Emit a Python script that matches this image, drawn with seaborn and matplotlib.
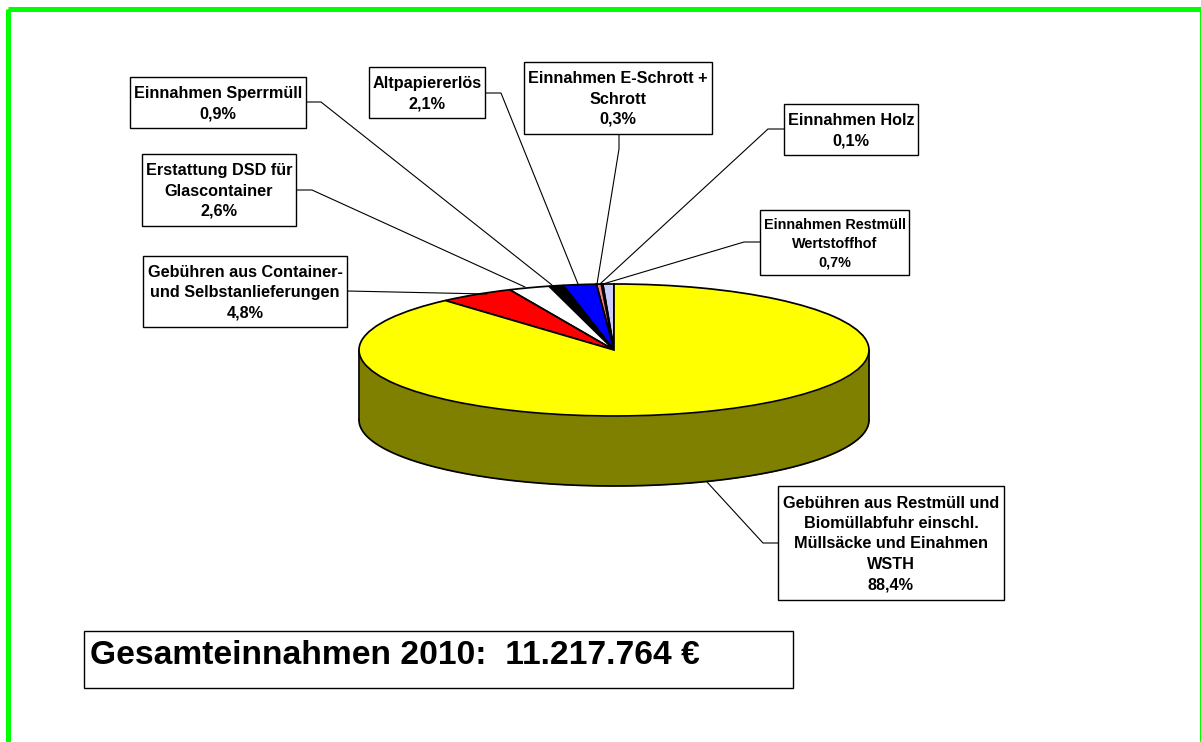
import numpy as np
import matplotlib
matplotlib.use("Agg")
import matplotlib.pyplot as plt
import seaborn as sns

# Anteile in %, Reihenfolge wie im Tortendiagramm (ab 12 Uhr gegen den Uhrzeigersinn)
anteile = [0.7, 0.1, 0.3, 2.1, 0.9, 2.6, 4.8, 88.4]
farben = ["#CCCCFF", "#FF8080", "#FF8080", "#0000FF", "#000000", "#FFFFFF", "#FF0000", "#FFFF00"]

beschriftungen = [
    "Einnahmen Restmüll\nWertstoffhof\n0,7%",
    "Einnahmen Holz\n0,1%",
    "Einnahmen E-Schrott +\nSchrott\n0,3%",
    "Altpapiererlös\n2,1%",
    "Einnahmen Sperrmüll\n0,9%",
    "Erstattung DSD für\nGlascontainer\n2,6%",
    "Gebühren aus Container-\nund Selbstanlieferungen\n4,8%",
    "Gebühren aus Restmüll und\nBiomüllabfuhr einschl.\nMüllsäcke und Einahmen\nWSTH\n88,4%",
]
titel = "Gesamteinnahmen 2010:  11.217.764 €"

# Boxen (x0, y0, x1, y1) in Pixeln und Führungslinien
boxen = [
    (760, 210, 909, 275), (784, 104, 918, 155), (524, 62, 712, 134), (369, 67, 485, 118),
    (129.5, 77, 306, 128), (142, 154, 296, 226), (143, 256, 347, 327), (778, 486, 1004, 600),
]
linien = [
    [(760, 242), (744, 242), (603, 284)],
    [(784, 129), (768, 129), (600, 284)],
    [(619, 134), (619, 149), (597, 284)],
    [(485, 93), (501, 93), (578, 284)],
    [(306, 102), (321, 102), (552, 285)],
    [(296, 190), (312, 190), (525, 287)],
    [(347, 291), (487, 294)],
    [(778, 543), (763, 543), (707, 482)],
]
schriftgroessen = [10.4, 11.7, 11.7, 11.7, 11.7, 11.7, 11.7, 11.7]

sns.set_theme(style="white")
plt.rcParams["font.family"] = ["Liberation Sans", "DejaVu Sans"]

W, H = 1201, 742
fig = plt.figure(figsize=(W / 100, H / 100), dpi=100, facecolor="white")

# Torte: Einheitskreis, per Achsenskala zur Ellipse gestaucht
rx, ry, cx, cy, tiefe = 255, 66, 614, 350, 70
ax = fig.add_axes([0, 0, 1, 1])
ax.pie(anteile, colors=sns.color_palette(farben), startangle=90, counterclock=True,
       wedgeprops=dict(edgecolor="black", linewidth=1.25), normalize=True)
ax.set_aspect("auto")
ax.set_xlim(-cx / rx, (W - cx) / rx)
ax.set_ylim((cy - H) / ry, cy / ry)

t = np.linspace(np.pi, 2 * np.pi, 300)
ax.fill_between(np.cos(t), np.sin(t), np.sin(t) - tiefe / ry, color="#808000", zorder=0.5, lw=0)
ax.plot(np.cos(t), np.sin(t) - tiefe / ry, color="black", lw=1.25, zorder=0.6)
ax.plot([-1, -1], [0, -tiefe / ry], color="black", lw=1.25, zorder=0.6)
ax.plot([1, 1], [0, -tiefe / ry], color="black", lw=1.25, zorder=0.6)

# Overlay in Pixelkoordinaten
ov = fig.add_axes([0, 0, 1, 1], facecolor="none")
ov.set_xlim(0, W)
ov.set_ylim(H, 0)
ov.axis("off")

ov.add_patch(plt.Rectangle((7.5, 8.5), 1194, 736, fill=False, edgecolor="#00FF00", lw=3.6))

for (x0, y0, x1, y1), txt, fs, lin in zip(boxen, beschriftungen, schriftgroessen, linien):
    ov.plot(*zip(*lin), color="black", lw=0.8, solid_joinstyle="miter")
    ov.add_patch(plt.Rectangle((x0, y0), x1 - x0, y1 - y0, facecolor="white", edgecolor="black", lw=1.0, zorder=3))
    ov.text((x0 + x1) / 2, (y0 + y1) / 2 + 1, txt, ha="center", va="center", fontsize=fs,
            fontweight="bold", color="black", linespacing=1.45, zorder=4)

ov.add_patch(plt.Rectangle((84, 631), 709, 57, facecolor="white", edgecolor="black", lw=1.0, zorder=3))
ov.text(90, 656, titel, ha="left", va="center", fontsize=24.2, fontweight="bold", color="black", zorder=4)

fig.savefig("out.png", dpi=100)
